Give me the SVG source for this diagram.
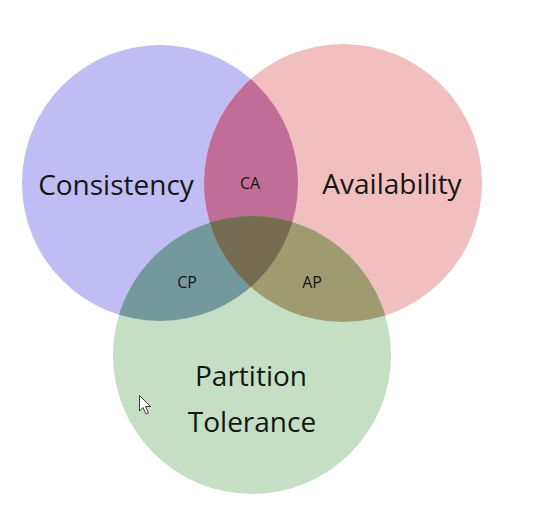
<svg xmlns="http://www.w3.org/2000/svg" width="558" height="513" viewBox="0 0 558 513">
<style>
.lbl{font-family:"Open Sans","Noto Sans","DejaVu Sans",sans-serif;fill:#151515;text-anchor:middle;font-weight:500}
.big{font-size:28px}
.small{font-size:16px}
</style>
<defs>
<clipPath id="cC"><circle cx="160" cy="183" r="138"/></clipPath>
<clipPath id="cA"><circle cx="343" cy="183" r="139"/></clipPath>
<clipPath id="cP"><circle cx="252" cy="355" r="139"/></clipPath>
</defs>
<rect width="558" height="513" fill="#ffffff"/>
<g id="consistency">
<circle cx="160" cy="183" r="138" fill="#c0bdf5"/>
</g>
<g id="availability">
<circle cx="343" cy="183" r="139" fill="#f1bfbf"/>
</g>
<g id="partition">
<circle cx="252" cy="355" r="139" fill="#c5dfc4"/>
</g>
<g id="ca">
<circle cx="343" cy="183" r="139" fill="#c06d98" clip-path="url(#cC)"/>
</g>
<g id="cp">
<circle cx="252" cy="355" r="139" fill="#73999d" clip-path="url(#cC)"/>
</g>
<g id="ap">
<circle cx="252" cy="355" r="139" fill="#9e9b71" clip-path="url(#cA)"/>
</g>
<g id="cap">
<g clip-path="url(#cC)"><circle cx="252" cy="355" r="139" fill="#756c51" clip-path="url(#cA)"/></g>
</g>
<g id="labels">
<text class="lbl big" x="116" y="195">Consistency</text>
<text class="lbl big" x="392" y="194">Availability</text>
<text class="lbl small" x="250" y="189">CA</text>
<text class="lbl small" x="187" y="288">CP</text>
<text class="lbl small" x="312" y="288">AP</text>
<text class="lbl big" x="251" y="386">Partition</text>
<text class="lbl big" x="252" y="432">Tolerance</text>
</g>
<g id="cursor">
<path d="M139.5 395.5 L139.5 411 L143 407.5 L146 414 L148.5 413 L145.5 406.5 L150.5 406.5 Z" fill="#ffffff" stroke="#3a3a3a" stroke-width="1" stroke-linejoin="round"/>
</g>
</svg>
